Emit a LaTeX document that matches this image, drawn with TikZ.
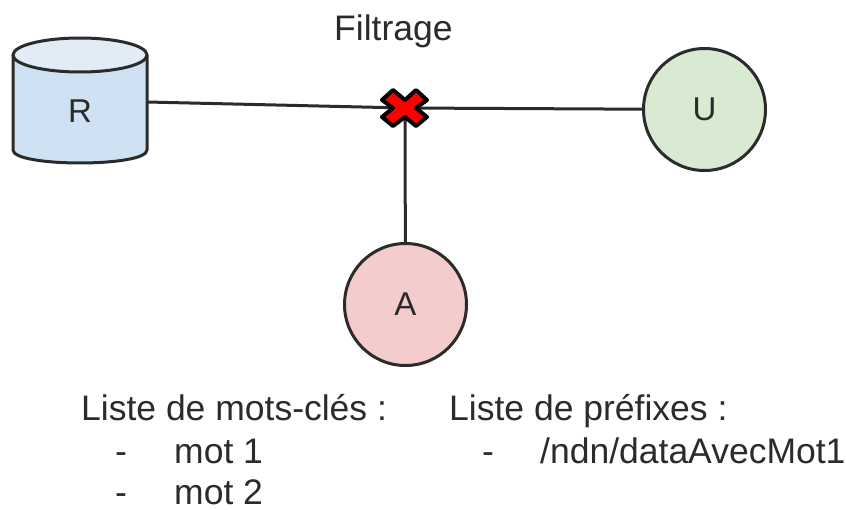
\documentclass[tikz,border=0pt]{standalone}
\usepackage{fontspec}
\setmainfont{Liberation Sans}
\definecolor{cylfill}{HTML}{CFE2F3}
\definecolor{cyltop}{HTML}{E2ECF7}
\definecolor{ufill}{HTML}{D9EAD3}
\definecolor{afill}{HTML}{F4CCCC}
\definecolor{ink}{HTML}{2B2B2B}
\tikzset{
  x=1pt,y=-1pt,
  outline/.style={draw=ink,line width=3pt,line join=round},
  peer/.style={circle,outline,minimum size=122pt,inner sep=0pt,font=\fontsize{33}{36}\selectfont,text=ink},
  wire/.style={draw=ink,line width=3pt},
  txt/.style={anchor=base west,inner sep=0pt,font=\fontsize{35.5}{40}\selectfont,text=ink}
}
\begin{document}
\begin{tikzpicture}
\useasboundingbox (0,0) rectangle (846,509);
\fill[white] (0,0) rectangle (846,509);
% nodes
\coordinate (X) at (405,108);
\node[peer,fill=ufill] (U) at (704.5,109.5) {U};
\node[peer,fill=afill] (A) at (405.5,304.5) {A};
\coordinate (Rport) at (147,102);
% connectors
\draw[wire] (Rport) -- (X);
\draw[wire] (X) -- (U);
\draw[wire] (X) -- (A);
% cylinder
\draw[outline,fill=cylfill] (13,55) -- (13,150) .. controls (13,167.3) and (147,167.3) .. (147,150) -- (147,55) -- cycle;
\draw[outline,fill=cyltop] (80,55) ellipse[x radius=67,y radius=17];
\node[font=\fontsize{33}{36}\selectfont,text=ink,inner sep=0pt] (R) at (80,111) {R};
% cross
\draw[draw=black,line width=4pt,line join=round,fill=red]
  (405,100) -- (416,90) -- (427,100) -- (416,108) -- (427,117) -- (416,126) -- (405,117) -- (393,126) -- (382,117) -- (393,108) -- (382,100) -- (393,90) -- cycle;
% texts
\node[txt] (t0) at (334,40) {Filtrage};
\node[txt] (t1) at (81,420) {Liste de mots-clés :};
\node[txt] (t2) at (115,463) {-};
\node[txt] (t3) at (174,463) {mot 1};
\node[txt] (t4) at (115,504) {-};
\node[txt] (t5) at (174,504) {mot 2};
\node[txt] (t6) at (449,420) {Liste de préfixes :};
\node[txt] (t7) at (482,463) {-};
\node[txt] (t8) at (540,463) {/ndn/dataAvecMot1};
\end{tikzpicture}
\end{document}
